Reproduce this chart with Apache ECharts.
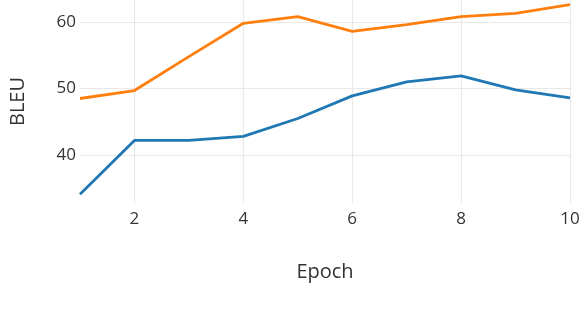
<!DOCTYPE html>
<html>
<head>
<meta charset="utf-8">
<script src="https://cdn.jsdelivr.net/npm/echarts@6/dist/echarts.min.js"></script>
<style>
  html, body { margin: 0; padding: 0; background: #fff; }
  #chart { width: 584px; height: 320px; }
</style>
</head>
<body>
<div id="chart"></div>
<script>
// data
var epochs = [1, 2, 3, 4, 5, 6, 7, 8, 9, 10];
var blueBleu = [34.1, 42.2, 42.2, 42.8, 45.5, 48.9, 51.0, 51.9, 49.8, 48.6];
var orangeBleu = [48.5, 49.7, 54.8, 59.8, 60.8, 58.6, 59.6, 60.8, 61.3, 62.6];
var xTicks = [2, 4, 6, 8, 10];
var yTicks = [40, 50, 60];

var textColor = '#333';
var font = '"Open Sans", sans-serif';

function pairs(xs, ys) {
  return xs.map(function (x, i) { return [x, ys[i]]; });
}

var chart = echarts.init(document.getElementById('chart'), null, { renderer: 'canvas' });

var option = {
  animation: false,
  backgroundColor: '#fff',
  textStyle: { fontFamily: font, color: textColor },
  grid: { left: 80, right: 14, top: 0, bottom: 117 },
  xAxis: {
    type: 'value',
    min: 1,
    max: 10,
    name: 'Epoch',
    nameLocation: 'middle',
    nameGap: 59,
    nameTextStyle: { fontSize: 20, color: textColor, fontFamily: font },
    axisLine: { show: false },
    axisTick: { show: false, customValues: xTicks },
    axisLabel: { customValues: xTicks, fontSize: 17, color: textColor, margin: 8, fontFamily: font },
    splitLine: { show: true, lineStyle: { color: '#e8e8e8', width: 1.2 } }
  },
  yAxis: {
    type: 'value',
    min: 32.8,
    max: 63.3,
    name: 'BLEU',
    nameLocation: 'middle',
    nameGap: 52,
    nameTextStyle: { fontSize: 20, color: textColor, fontFamily: font },
    axisLine: { show: false },
    axisTick: { show: false, customValues: yTicks },
    axisLabel: { customValues: yTicks, fontSize: 17, color: textColor, margin: 4, fontFamily: font },
    splitLine: { show: true, lineStyle: { color: '#e8e8e8', width: 1.2 } }
  },
  series: [
    {
      name: 'Model A',
      type: 'line',
      data: pairs(epochs, blueBleu),
      showSymbol: false,
      lineStyle: { color: '#1f77b4', width: 2.8 },
      itemStyle: { color: '#1f77b4' }
    },
    {
      name: 'Model B',
      type: 'line',
      data: pairs(epochs, orangeBleu),
      showSymbol: false,
      lineStyle: { color: '#ff7f0e', width: 2.8 },
      itemStyle: { color: '#ff7f0e' }
    }
  ]
};
chart.setOption(option);
</script>
</body>
</html>
